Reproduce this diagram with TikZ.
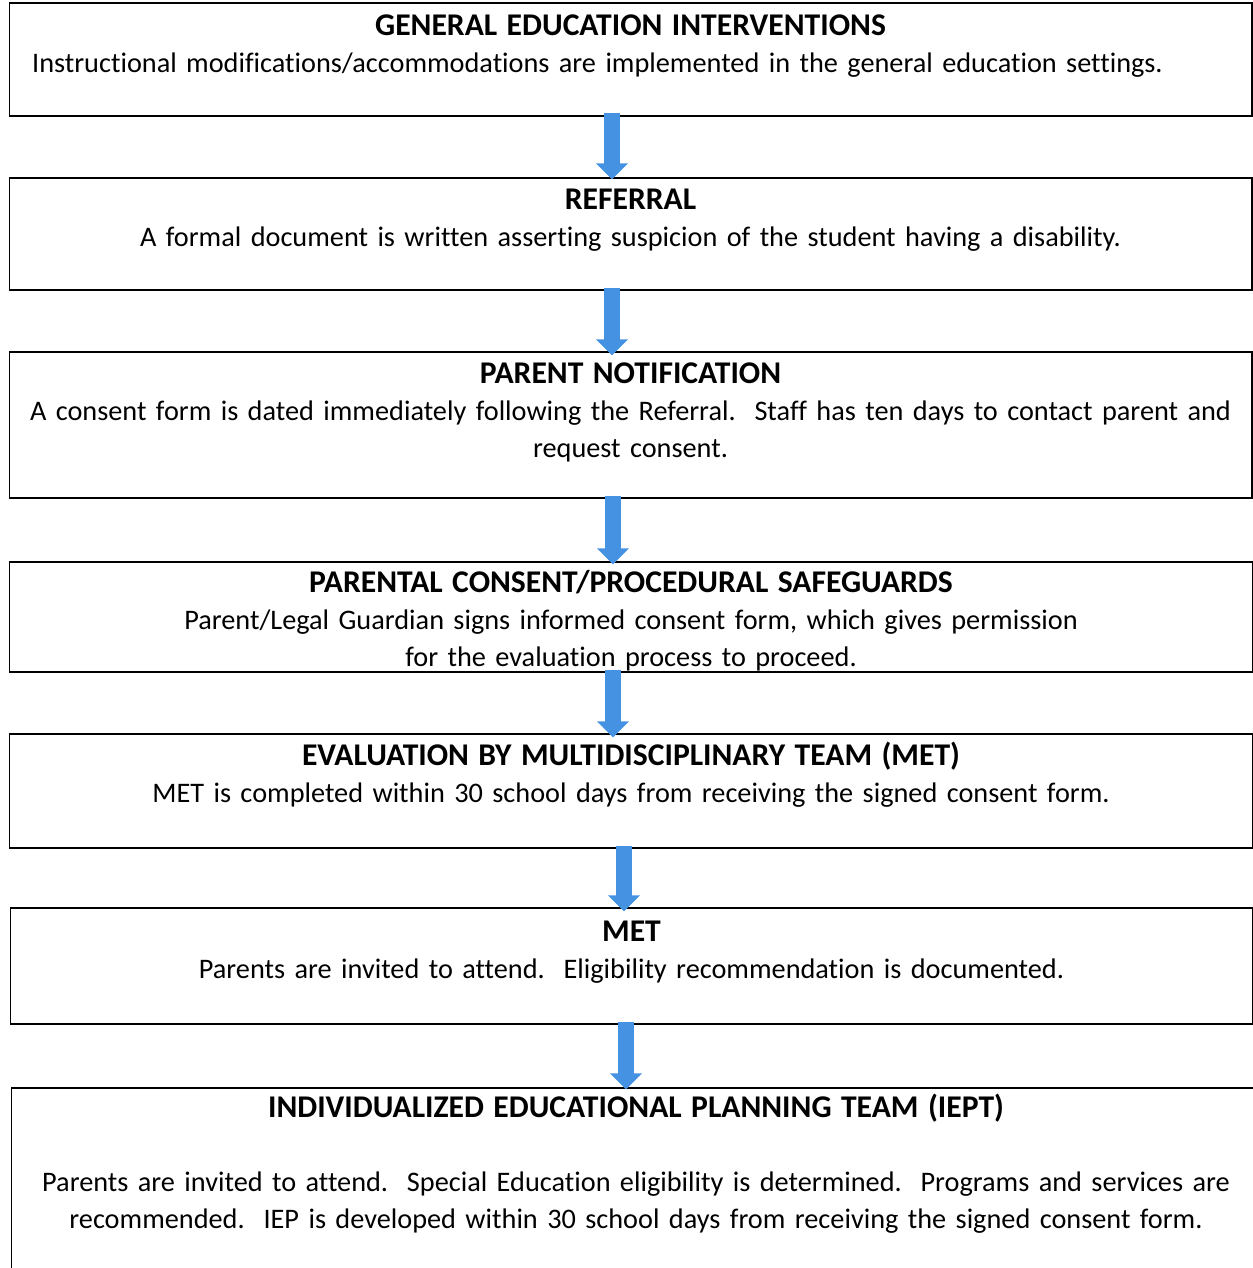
\documentclass[tikz,border=0pt]{standalone}
\usepackage{fontspec}
\setmainfont{Carlito}[Ligatures=NoCommon]
\usetikzlibrary{arrows.meta}
\definecolor{flowblue}{RGB}{70,146,226}
\newcommand{\steptitle}[1]{{\fontsize{18pt}{21pt}\selectfont\bfseries #1}}
\tikzset{
  stepbox/.style={draw, line width=0.7pt, minimum width=24.86cm, inner sep=0pt},
  steptext/.style={text width=24.6cm, align=center, inner sep=0pt, anchor=base,
    font=\fontsize{16.1pt}{21pt}\selectfont},
  flow/.style={draw=flowblue, line width=0.32cm, -{Triangle[width=0.62cm,length=0.32cm]}}
}
\begin{document}
\begin{tikzpicture}[x=0.02cm,y=-0.02cm]
    \clip (0,0) rectangle (1253,1268);
    % boxes
    \node[stepbox, minimum height=2.26cm] (gei) at (630.5,59.5) {};
    \node[stepbox, minimum height=2.24cm] (ref) at (630.5,234) {};
    \node[stepbox, minimum height=2.92cm] (pn) at (630.5,425) {};
    \node[stepbox, minimum height=2.2cm] (pcs) at (631,617) {};
    \node[stepbox, minimum height=2.28cm] (eval) at (631,791) {};
    \node[stepbox, minimum height=2.32cm] (met) at (631.5,966) {};
    \node[stepbox, minimum width=25cm, minimum height=4.4cm] (iept) at (636,1198) {};
    % texts
    \node[steptext] (gei-t) at ([yshift=-0.66cm]gei.north)
        {\steptitle{GENERAL EDUCATION INTERVENTIONS}\\
        \hspace*{-1.32cm}Instructional modifications/accommodations are implemented in the general education settings.};
    \node[steptext] (ref-t) at ([yshift=-0.65cm]ref.north)
        {\steptitle{REFERRAL}\\
        A formal document is written asserting suspicion of the student having a disability.};
    \node[steptext] (pn-t) at ([yshift=-0.64cm]pn.north)
        {\steptitle{PARENT NOTIFICATION}\\
        A consent form is dated immediately following the Referral.\ \ Staff has ten days to contact parent and\\
        request consent.};
    \node[steptext] (pcs-t) at ([yshift=-0.62cm]pcs.north)
        {\steptitle{PARENTAL CONSENT/PROCEDURAL SAFEGUARDS}\\
        Parent/Legal Guardian signs informed consent form, which gives permission\\
        for the evaluation process to proceed.};
    \node[steptext] (eval-t) at ([yshift=-0.64cm]eval.north)
        {\steptitle{EVALUATION BY MULTIDISCIPLINARY TEAM (MET)}\\
        MET is completed within 30 school days from receiving the signed consent form.};
    \node[steptext] (met-t) at ([yshift=-0.68cm]met.north)
        {\steptitle{MET}\\
        Parents are invited to attend.\ \ Eligibility recommendation is documented.};
    \node[steptext] (iept-t) at ([yshift=-0.6cm]iept.north)
        {\steptitle{INDIVIDUALIZED EDUCATIONAL PLANNING TEAM (IEPT)}\\[21pt]
        Parents are invited to attend.\ \ Special Education eligibility is determined.\ \ Programs and services are\\
        recommended.\ \ IEP is developed within 30 school days from receiving the signed consent form.};
    % arrows
    \draw[flow] ([xshift=-0.37cm,yshift=0.08cm]gei.south) -- ([xshift=-0.37cm,yshift=-0.04cm]gei.south |- ref.north);
    \draw[flow] ([xshift=-0.37cm,yshift=0.06cm]ref.south) -- ([xshift=-0.37cm,yshift=-0.08cm]ref.south |- pn.north);
    \draw[flow] ([xshift=-0.35cm,yshift=0.06cm]pn.south) -- ([xshift=-0.35cm,yshift=-0.06cm]pn.south |- pcs.north);
    \draw[flow] ([xshift=-0.36cm,yshift=0.06cm]pcs.south) -- ([xshift=-0.36cm,yshift=-0.08cm]pcs.south |- eval.north);
    \draw[flow] ([xshift=-0.14cm,yshift=0.06cm]eval.south) -- ([xshift=-0.14cm,yshift=-0.08cm]eval.south |- met.north);
    \draw[flow] ([xshift=-0.11cm,yshift=0.06cm]met.south) -- ([xshift=-0.11cm,yshift=-0.04cm]met.south |- iept.north);
\end{tikzpicture}
\end{document}
